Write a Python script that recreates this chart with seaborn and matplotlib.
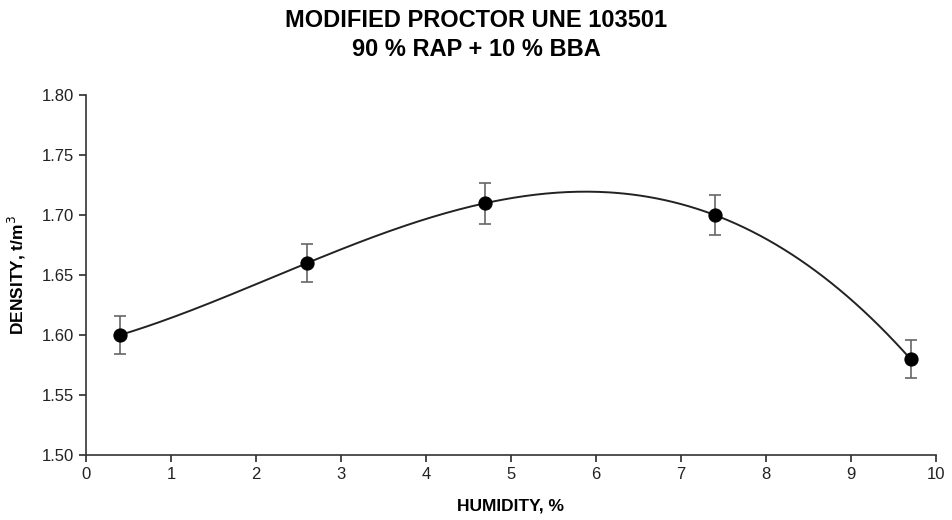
import numpy as np
import pandas as pd
import seaborn as sns
import matplotlib.pyplot as plt

sns.set_theme(style="ticks")
plt.rcParams['font.family'] = ['Liberation Sans', 'DejaVu Sans']
plt.rcParams['text.color'] = 'black'
plt.rcParams['axes.labelcolor'] = 'black'

humidity = [0.4, 2.6, 4.7, 7.4, 9.7]
density = [1.60, 1.66, 1.71, 1.70, 1.58]
density_err = [0.016, 0.016, 0.017, 0.017, 0.016]

df = pd.DataFrame({"humidity": humidity, "density": density, "err": density_err})

# trendline through the measured points (polynomial, like the spreadsheet one)
coef = np.polyfit(df["humidity"], df["density"], 4)
xs = np.linspace(df["humidity"].min(), df["humidity"].max(), 300)
trend = pd.DataFrame({"humidity": xs, "density": np.polyval(coef, xs)})

fig = plt.figure(figsize=(9.53, 5.2), dpi=100)
ax = fig.add_axes([0.0902, 0.125, 0.892, 0.692])

sns.lineplot(data=trend, x="humidity", y="density", color="#222222", lw=1.4, ax=ax)
ax.errorbar(df["humidity"], df["density"], yerr=df["err"], fmt="none",
            ecolor="#666666", elinewidth=1.2, capsize=4, capthick=1.2, zorder=3)
sns.scatterplot(data=df, x="humidity", y="density", color="black", s=90,
                edgecolor="black", zorder=4, ax=ax)

ax.set_xlim(0, 10)
ax.set_ylim(1.50, 1.80)
ax.set_xticks(range(0, 11))
ax.set_yticks(np.arange(1.50, 1.801, 0.05))
ax.yaxis.set_major_formatter(plt.FormatStrFormatter("%.2f"))
ax.tick_params(labelsize=12, colors="#333333", labelcolor="#222222", length=5)
sns.despine(ax=ax)
for s in ["left", "bottom"]:
    ax.spines[s].set_color("#333333")
    ax.spines[s].set_linewidth(1.2)

ax.set_xlabel("HUMIDITY, %", fontsize=12.5, fontweight="bold", labelpad=12)
ax.set_ylabel("DENSITY, t/m$^3$", fontsize=12.5, fontweight="bold", labelpad=10)
fig.suptitle("MODIFIED PROCTOR UNE 103501\n90 % RAP + 10 % BBA", fontsize=17,
             fontweight="bold", y=0.982, linespacing=1.3)

fig.savefig("out.png", dpi=100)
